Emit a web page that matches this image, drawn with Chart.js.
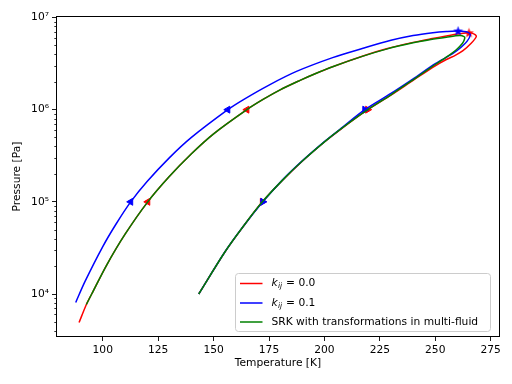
<!DOCTYPE html>
<html>
<head>
<meta charset="utf-8">
<script src="https://cdn.jsdelivr.net/npm/chart.js@4/dist/chart.umd.min.js"></script>
<style>
	html, body { margin: 0; padding: 0; background: #fff; }
	#wrap { width: 512px; height: 384px; position: relative; }
</style>
</head>
<body>
<div id="wrap"><canvas id="grafico"></canvas></div>
<script>
// phase envelopes, T in K, p in Pa (bubble branch up, round the top, dew branch down)
var redT = [89.3, 92.6, 95, 101.7, 110, 120.3, 130, 140, 150, 165, 172.3, 180, 189, 195, 204, 217.4, 228, 240, 248, 255, 261, 265.2, 267.6, 268.5, 266.2, 262.5, 259, 255, 250, 240, 230, 219.5, 207, 200, 190, 181, 172, 163, 155, 143.3];
var redP = [4.9e3, 7.7e3, 1.0e4, 2.05e4, 4.43e4, 1.0e5, 1.88e5, 3.32e5, 5.46e5, 1.0e6, 1.29e6, 1.64e6, 2.08e6, 2.41e6, 2.94e6, 3.82e6, 4.57e6, 5.37e6, 5.87e6, 6.3e6, 6.65e6, 6.82e6, 6.6e6, 6.2e6, 5.25e6, 4.37e6, 3.89e6, 3.5e6, 2.99e6, 2.08e6, 1.44e6, 1.0e6, 6.05e5, 4.46e5, 2.76e5, 1.70e5, 1.0e5, 5.25e4, 2.83e4, 1.0e4];

var blueT = [87.8, 92, 100, 106, 112.6, 120, 130, 140, 156.4, 163.3, 175, 187.4, 203.7, 217.4, 230, 240, 248.9, 255, 260.3, 264.8, 265.8, 264.3, 261.8, 258, 250, 240, 230, 218.2, 207, 200, 190, 181, 172.2, 163, 155, 143.3];
var blueP = [8.1e3, 1.37e4, 3.27e4, 5.75e4, 1.0e5, 1.66e5, 3.0e5, 5.0e5, 1.0e6, 1.28e6, 1.85e6, 2.6e6, 3.67e6, 4.63e6, 5.65e6, 6.37e6, 6.84e6, 7.05e6, 7.13e6, 6.9e6, 6.46e6, 5.5e6, 4.79e6, 4.07e6, 3.16e6, 2.16e6, 1.5e6, 1.0e6, 6.12e5, 4.5e5, 2.78e5, 1.72e5, 1.0e5, 5.27e4, 2.84e4, 1.0e4];

var greenT = [92.6, 95, 101.7, 110, 120.3, 130, 140, 150, 165, 172.3, 180, 189, 195, 204, 217.4, 228, 240, 248, 255, 261, 263, 263.3, 262.3, 259.5, 256.5, 250, 240, 230, 219, 207, 200, 190, 181, 172, 163, 155, 143.3];
var greenP = [7.7e3, 1.0e4, 2.05e4, 4.43e4, 1.0e5, 1.88e5, 3.32e5, 5.46e5, 1.0e6, 1.29e6, 1.64e6, 2.08e6, 2.41e6, 2.94e6, 3.81e6, 4.54e6, 5.31e6, 5.77e6, 6.11e6, 6.37e6, 6.2e6, 5.95e6, 5.25e6, 4.47e6, 3.94e6, 3.09e6, 2.11e6, 1.45e6, 9.8e5, 6.07e5, 4.48e5, 2.77e5, 1.71e5, 1.0e5, 5.27e4, 2.84e4, 1.0e4];

// direction markers
var redMarkT = [120.3, 165, 265.2, 219.5, 172];
var redMarkP = [1e5, 1e6, 6.82e6, 1e6, 1e5];
var blueMarkT = [112.6, 156.4, 260.3, 218.2, 172.2];
var blueMarkP = [1e5, 1e6, 7.13e6, 1e6, 1e5];
var markKind = ['left', 'left', 'star', 'right', 'right'];

var xTicks = [100, 125, 150, 175, 200, 225, 250, 275];
var yTicks = [1e4, 1e5, 1e6, 1e7];
var legendLabels = ['0.0', '0.1', 'SRK with transformations in multi-fluid'];

var FONT = 'DejaVu Sans';
var sup = {'0':'⁰','1':'¹','2':'²','3':'³','4':'⁴','5':'⁵','6':'⁶','7':'⁷','8':'⁸','9':'⁹'};

function pts(xs, ys) {
	var out = [];
	for (var i in xs) out.push({x: xs[i], y: ys[i]});
	return out;
}

function starImg(color) {
	var c = document.createElement('canvas');
	c.width = 11; c.height = 11;
	var g = c.getContext('2d');
	g.fillStyle = color;
	g.beginPath();
	for (var k = 0; k < 10; k++) {
		var r = (k % 2 === 0) ? 5.2 : 2.1;
		var a = -Math.PI / 2 + k * Math.PI / 5;
		var px = 5.5 + r * Math.cos(a), py = 5.8 + r * Math.sin(a);
		if (k === 0) g.moveTo(px, py); else g.lineTo(px, py);
	}
	g.closePath();
	g.fill();
	return c;
}

function markStyle(color) {
	var st = starImg(color);
	return markKind.map(function(k) { return k === 'star' ? st : 'triangle'; });
}
function markRot() {
	return markKind.map(function(k) { return k === 'left' ? 270 : (k === 'right' ? 90 : 0); });
}

function lineSet(data, color, order) {
	return {
		data: data, showLine: true, borderColor: color, backgroundColor: color,
		borderWidth: 1.5, pointRadius: 0, tension: 0.3, order: order
	};
}
function markSet(data, color, order) {
	return {
		data: data, showLine: false, borderColor: color, backgroundColor: color,
		borderWidth: 1, pointRadius: 4, pointStyle: markStyle(color), rotation: markRot(), order: order
	};
}

var frame = {
	id: 'frame',
	afterDraw: function(chart) {
		var ctx = chart.ctx, a = chart.chartArea, ys = chart.scales.y;
		ctx.save();
		ctx.strokeStyle = '#000';
		ctx.lineWidth = 1;
		var l = Math.round(a.left) + 0.5, t = Math.round(a.top) + 0.5;
		var r0 = Math.round(a.right) - 0.5, b0 = Math.round(a.bottom) - 0.5;
		ctx.strokeRect(l, t, r0 - l, b0 - t);
		// log minor ticks
		ctx.lineWidth = 0.8;
		ctx.beginPath();
		for (var e = 3; e <= 7; e++) {
			for (var m = 2; m <= 9; m++) {
				var v = m * Math.pow(10, e);
				if (v < ys.min || v > ys.max) continue;
				var py = Math.round(ys.getPixelForValue(v)) + 0.5;
				ctx.moveTo(l, py);
				ctx.lineTo(l - 2.2, py);
			}
		}
		ctx.stroke();

		// legend
		var x = 235.5, y = 273.5, w = 255, h = 58, r = 3;
		ctx.beginPath();
		ctx.moveTo(x + r, y);
		ctx.arcTo(x + w, y, x + w, y + h, r);
		ctx.arcTo(x + w, y + h, x, y + h, r);
		ctx.arcTo(x, y + h, x, y, r);
		ctx.arcTo(x, y, x + w, y, r);
		ctx.closePath();
		ctx.fillStyle = 'rgba(255,255,255,0.8)';
		ctx.fill();
		ctx.strokeStyle = '#cccccc';
		ctx.lineWidth = 1;
		ctx.stroke();

		var colors = ['#ff0000', '#0000ff', '#008000'];
		var rows = [283.5, 303, 322];
		ctx.textBaseline = 'middle';
		ctx.fillStyle = '#000';
		for (var i = 0; i < 3; i++) {
			ctx.strokeStyle = colors[i];
			ctx.lineWidth = 1.5;
			ctx.beginPath();
			ctx.moveTo(240, rows[i]);
			ctx.lineTo(262.5, rows[i]);
			ctx.stroke();
			var tx = 271.5;
			if (i < 2) {
				ctx.font = 'italic 10.7px ' + FONT;
				ctx.fillText('k', tx, rows[i]);
				tx += ctx.measureText('k').width;
				ctx.font = 'italic 7.5px ' + FONT;
				ctx.fillText('ij', tx + 0.3, rows[i] + 2.8);
				tx += ctx.measureText('ij').width + 0.8;
				ctx.font = '10.7px ' + FONT;
				ctx.fillText(' = ' + legendLabels[i], tx, rows[i]);
			} else {
				ctx.font = '10.7px ' + FONT;
				ctx.fillText(legendLabels[i], tx, rows[i]);
			}
		}
		ctx.restore();
	}
};

var ctx = document.getElementById('grafico');
var chart = new Chart(ctx, {
	type: 'scatter',
	data: {
		datasets: [
			lineSet(pts(redT, redP), '#ff0000', 5),
			markSet(pts(redMarkT, redMarkP), '#ff0000', 4),
			lineSet(pts(blueT, blueP), '#0000ff', 3),
			markSet(pts(blueMarkT, blueMarkP), '#0000ff', 2),
			lineSet(pts(greenT, greenP), '#008000', 0)
		]
	},
	options: {
		responsive: true,
		maintainAspectRatio: false,
		animation: false,
		devicePixelRatio: 1,
		layout: { padding: { top: 16, right: 12, left: 0, bottom: 0 } },
		plugins: { legend: { display: false }, tooltip: { enabled: false } },
		scales: {
			x: {
				type: 'linear', min: 78.9, max: 279.2,
				afterBuildTicks: function(ax) { ax.ticks = xTicks.map(function(v) { return {value: v}; }); },
				afterFit: function(ax) { ax.height = 47; },
				grid: { drawOnChartArea: false, tickLength: 4, color: '#000', tickWidth: 0.9 },
				border: { display: false },
				ticks: { color: '#000', padding: 3, maxRotation: 0, font: { family: FONT, size: 10.7 } },
				title: { display: true, text: 'Temperature [K]', color: '#000', font: { family: FONT, size: 10.7 }, padding: { top: 0, bottom: 14 } }
			},
			y: {
				type: 'logarithmic', min: 3416, max: 1.038e7,
				afterBuildTicks: function(ax) { ax.ticks = yTicks.map(function(v) { return {value: v}; }); },
				afterFit: function(ax) { ax.width = 56; },
				grid: { drawOnChartArea: false, tickLength: 4, color: '#000', tickWidth: 0.9 },
				border: { display: false },
				ticks: {
					color: '#000', padding: 3, font: { family: FONT, size: 10.7 },
					callback: function(v) {
						var e = String(Math.round(Math.log10(v)));
						return '10' + e.split('').map(function(c) { return sup[c]; }).join('');
					}
				},
				title: { display: true, text: 'Pressure [Pa]', color: '#000', font: { family: FONT, size: 10.7 }, padding: { top: 11, bottom: 0 } }
			}
		}
	},
	plugins: [frame]
});
</script>
</body>
</html>
